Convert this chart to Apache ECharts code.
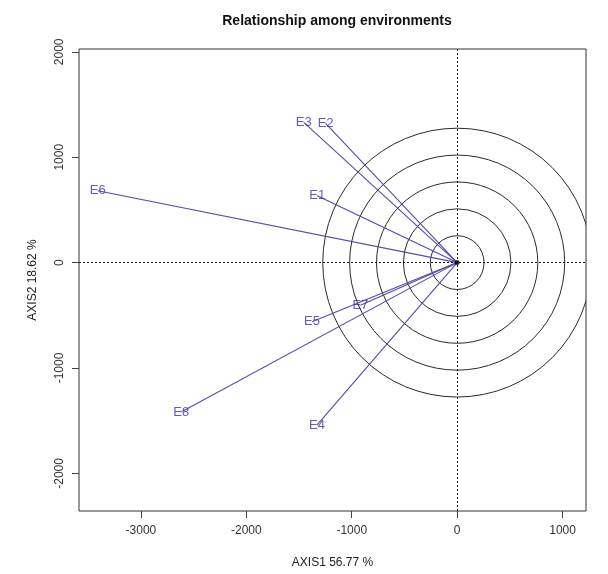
<!DOCTYPE html>
<html>
<head>
<meta charset="utf-8">
<script src="https://cdn.jsdelivr.net/npm/echarts@6/dist/echarts.min.js"></script>
<style>
  html, body { margin: 0; padding: 0; background: #fff; }
  #chart { width: 608px; height: 574px; }
</style>
</head>
<body>
<div id="chart"></div>
<script>
// Environment scores on the first two principal axes
const envNames = ['E1', 'E2', 'E3', 'E4', 'E5', 'E6', 'E7', 'E8'];
const axis1Scores = [-1327, -1248, -1455, -1330, -1377, -3409, -918, -2618];
const axis2Scores = [634, 1322, 1330, -1543, -562, 682, -404, -1417];

// Concentric reference circles around the origin
const ringRadii = [255, 510, 765, 1020, 1275];

// Axis extents and tick labels
const xRange = [-3587, 1222];
const yRange = [-2357, 2027];
const xTicks = [-3000, -2000, -1000, 0, 1000];
const yTicks = [-2000, -1000, 0, 1000, 2000];

const envPoints = envNames.map((n, i) => [axis1Scores[i], axis2Scores[i], n]);

const chart = echarts.init(document.getElementById('chart'), null, { renderer: 'canvas' });

const vectorColor = '#4e4ea6';
const labelColor = '#3434ac';
const fontFamily = 'Liberation Sans, Arial, sans-serif';

chart.setOption({
  animation: false,
  backgroundColor: '#ffffff',
  title: {
    text: 'Relationship among environments',
    left: 332,
    textAlign: 'center',
    top: 9,
    textStyle: { fontFamily, fontSize: 14, fontWeight: 'bold', color: '#111' }
  },
  grid: {
    left: 79, right: 22, top: 49, bottom: 63,
    show: true, borderColor: '#333', borderWidth: 1, backgroundColor: 'transparent'
  },
  xAxis: {
    type: 'value',
    min: xRange[0], max: xRange[1],
    name: 'AXIS1 56.77 %',
    nameLocation: 'middle',
    nameGap: 46,
    nameTextStyle: { fontFamily, fontSize: 12, color: '#222' },
    axisLine: { show: false, onZero: false },
    splitLine: { show: false },
    axisTick: { show: true, length: 7, customValues: xTicks, lineStyle: { color: '#444' } },
    axisLabel: {
      customValues: xTicks, margin: 14, fontFamily, fontSize: 12, color: '#333',
      formatter: v => String(v)
    }
  },
  yAxis: {
    type: 'value',
    min: yRange[0], max: yRange[1],
    name: 'AXIS2 18.62 %',
    nameLocation: 'middle',
    nameRotate: 90,
    nameGap: 40,
    nameTextStyle: { fontFamily, fontSize: 12, color: '#222' },
    axisLine: { show: false, onZero: false },
    splitLine: { show: false },
    axisTick: { show: true, length: 7, customValues: yTicks, lineStyle: { color: '#444' } },
    axisLabel: {
      customValues: yTicks, rotate: 90, margin: 13, fontFamily, fontSize: 12, color: '#333',
      formatter: v => String(v)
    }
  },
  series: [
    {
      // concentric circles
      type: 'custom',
      clip: true,
      silent: true,
      data: ringRadii.map(r => [r, 0]),
      renderItem: function (params, api) {
        const c = api.coord([0, 0]);
        const r = api.size([api.value(0), 0])[0];
        return {
          type: 'circle',
          shape: { cx: c[0], cy: c[1], r: r },
          style: { fill: 'none', stroke: '#2a2a2a', lineWidth: 1 }
        };
      },
      markLine: {
        silent: true,
        symbol: 'none',
        label: { show: false },
        lineStyle: { color: '#111', width: 1, type: [2, 2] },
        data: [{ xAxis: 0 }, { yAxis: 0 }]
      },
      z: 2
    },
    {
      // vectors from the origin to each environment
      type: 'custom',
      clip: true,
      silent: true,
      data: envPoints,
      renderItem: function (params, api) {
        const o = api.coord([0, 0]);
        const p = api.coord([api.value(0), api.value(1)]);
        return {
          type: 'line',
          shape: { x1: o[0], y1: o[1], x2: p[0], y2: p[1] },
          style: { stroke: vectorColor, lineWidth: 1.1 }
        };
      },
      z: 3
    },
    {
      // environment labels at the vector tips
      type: 'scatter',
      silent: true,
      symbolSize: 0,
      data: envPoints,
      label: {
        show: true,
        position: 'inside',
        formatter: p => p.data[2],
        fontFamily, fontSize: 13, color: labelColor
      },
      z: 4
    },
    {
      // origin marker
      type: 'scatter',
      silent: true,
      symbolSize: 5,
      itemStyle: { color: '#000' },
      data: [[0, 0]],
      z: 5
    }
  ]
});
</script>
</body>
</html>
